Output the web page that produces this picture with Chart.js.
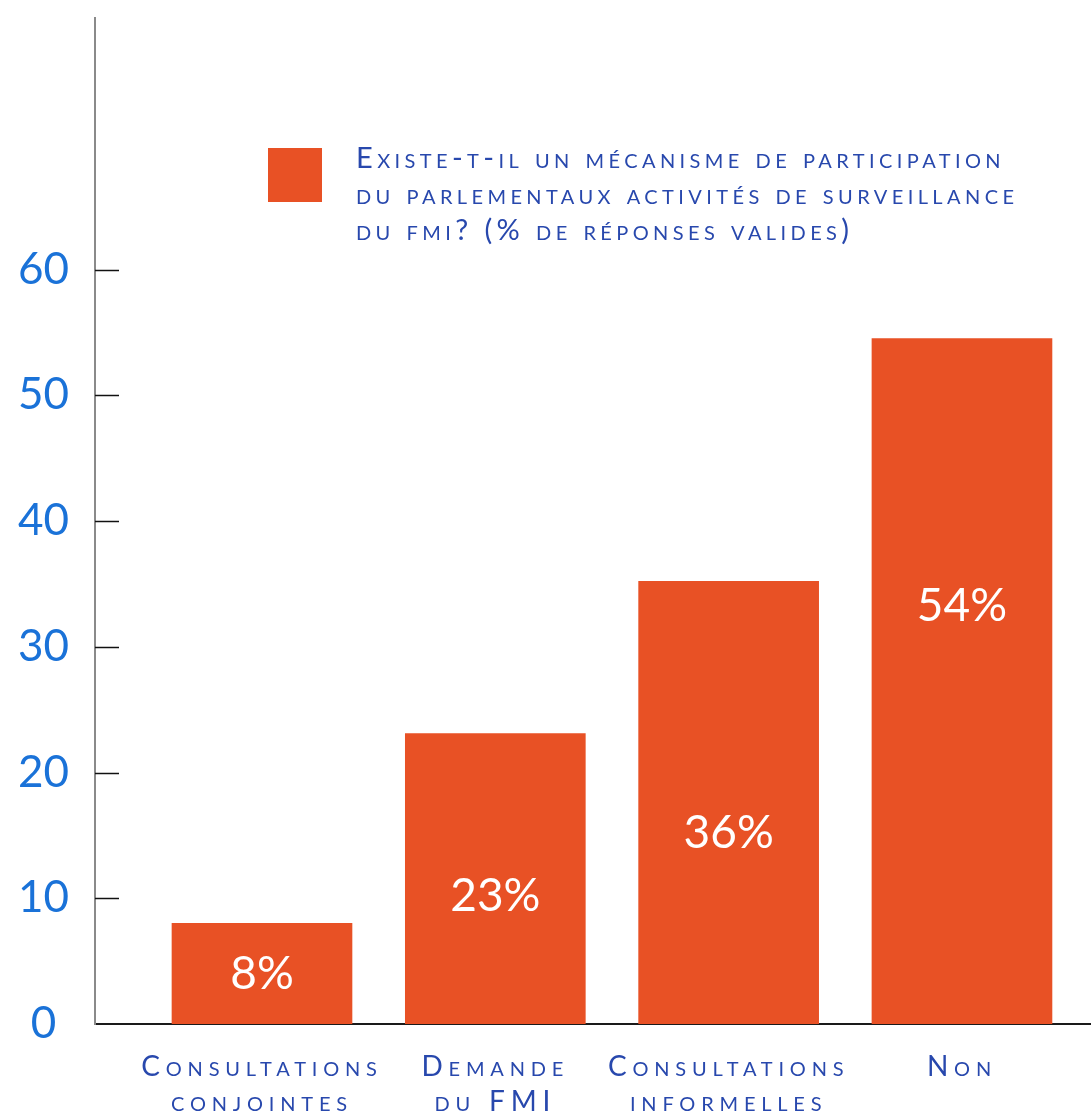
<!DOCTYPE html>
<html>
<head>
<meta charset="utf-8">
<script src="https://cdn.jsdelivr.net/npm/chart.js@4.4.1/dist/chart.umd.min.js"></script>
<style>
    html, body { margin: 0; padding: 0; background: #ffffff; }
</style>
</head>
<body>
<canvas id="chart" width="1091" height="1115"></canvas>
<script>
// ---------- DATA ----------
const categories = ["Consultations conjointes", "Demande du FMI", "Consultations informelles", "Non"];
const categoryLines = [["Consultations", "conjointes"], ["Demande", "du FMI"], ["Consultations", "informelles"], ["Non"]];
const values = [8, 23.1, 35.2, 54.5];
const valueLabels = ["8%", "23%", "36%", "54%"];
const yTicks = [0, 10, 20, 30, 40, 50, 60];
const legendLines = [
    "Existe-t-il un mécanisme de participation",
    "du parlementaux activités de surveillance",
    "du fmi? (% de réponses valides)"
];

// where the value text sits inside each bar (share of bar height)
const labelFrac = [0.5, 0.44, 0.43, 0.61];

const ORANGE = "#e85125";
const NAVY = "#2848ad";
const BLUE = "#1a72d8";

// ---------- PLUGINS ----------
// wide tracking for the category labels only (y labels are drawn later, z = 1)
const spacingPlugin = {
    id: "spacing",
    beforeDraw(chart) { chart.ctx.letterSpacing = "5.8px"; },
    beforeDatasetsDraw(chart) { chart.ctx.letterSpacing = "0px"; }
};

const innerTicks = {
    id: "innerTicks",
    afterDraw(chart) {
        const ctx = chart.ctx;
        const y = chart.scales.y;
        const left = chart.chartArea.left;
        ctx.save();
        ctx.strokeStyle = "#111";
        ctx.lineWidth = 1.5;
        yTicks.forEach(v => {
            if (v === 0) return;
            const py = Math.round(y.getPixelForValue(v)) + 0.5;
            ctx.beginPath();
            ctx.moveTo(left, py);
            ctx.lineTo(left + 24, py);
            ctx.stroke();
        });
        ctx.restore();
    }
};

const barText = {
    id: "barText",
    afterDatasetsDraw(chart) {
        const ctx = chart.ctx;
        const y = chart.scales.y;
        const bars = chart.getDatasetMeta(0).data;
        ctx.save();
        ctx.letterSpacing = "0px";
        ctx.fillStyle = "#ffffff";
        ctx.font = "400 46px Lato";
        ctx.textAlign = "center";
        ctx.textBaseline = "middle";
        bars.forEach((bar, i) => {
            const py = y.getPixelForValue(values[i] * labelFrac[i]);
            ctx.fillText(valueLabels[i], bar.x, py);
        });
        ctx.restore();
    }
};

const legendBox = {
    id: "legendBox",
    afterDraw(chart) {
        const ctx = chart.ctx;
        const a = chart.chartArea;
        ctx.save();
        ctx.fillStyle = ORANGE;
        ctx.fillRect(a.left + 173, a.top + 130, 54, 54);
        ctx.fillStyle = NAVY;
        ctx.font = "small-caps 400 29px Lato";
        ctx.letterSpacing = "4.4px";
        ctx.textAlign = "left";
        ctx.textBaseline = "alphabetic";
        legendLines.forEach((line, i) => {
            ctx.fillText(line, a.left + 261, a.top + 150 + i * 36);
        });
        ctx.restore();
    }
};

// ---------- CHART ----------
const ctx = document.getElementById("chart").getContext("2d");

new Chart(ctx, {
    type: "bar",
    data: {
        datasets: [{
            label: legendLines.join(" "),
            data: categories.map((c, i) => ({ x: i, y: values[i] })),
            backgroundColor: ORANGE,
            borderWidth: 0,
            barThickness: 180
        }]
    },
    options: {
        responsive: false,
        animation: false,
        layout: { padding: { top: 18, left: 0, right: 0, bottom: 0 } },
        plugins: {
            legend: { display: false },
            tooltip: { enabled: false }
        },
        scales: {
            x: {
                type: "linear",
                offset: false,
                min: -0.7157,
                max: 3.553,
                afterFit: s => { s.height = 91; s.paddingLeft = 0; s.paddingRight = 0; },
                grid: { display: false, drawTicks: false, offset: false },
                border: { color: "#1a1a1a", width: 2 },
                ticks: {
                    stepSize: 1,
                    includeBounds: false,
                    autoSkip: false,
                    maxRotation: 0,
                    minRotation: 0,
                    padding: 25,
                    color: NAVY,
                    font: { family: "Lato", size: 28, weight: "small-caps 400", lineHeight: 1.25 },
                    callback: v => (Number.isInteger(v) && categoryLines[v]) ? categoryLines[v] : null
                }
            },
            y: {
                min: 0,
                max: 80,
                afterFit: s => { s.width = 95; s.paddingTop = 0; s.paddingBottom = 0; },
                grid: { display: false, drawTicks: false },
                border: { color: "#8a8a8a", width: 2 },
                ticks: {
                    z: 1,
                    stepSize: 10,
                    padding: 26,
                    crossAlign: "center",
                    color: BLUE,
                    font: { family: "Lato", size: 44 },
                    callback: v => yTicks.includes(v) ? String(v) : null
                }
            }
        }
    },
    plugins: [spacingPlugin, innerTicks, barText, legendBox]
});
</script>
</body>
</html>
